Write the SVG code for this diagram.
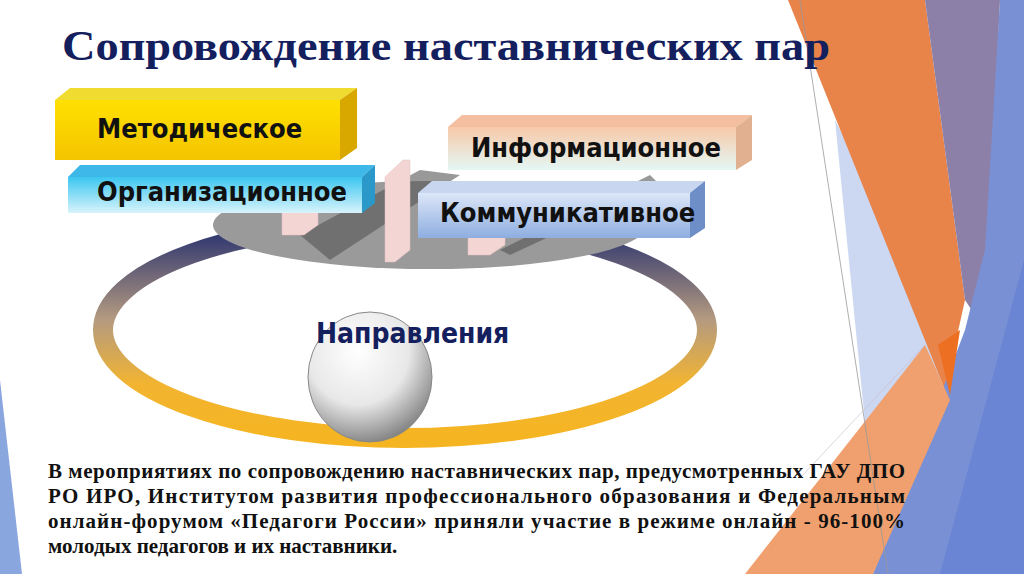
<svg xmlns="http://www.w3.org/2000/svg" width="1024" height="574" viewBox="0 0 1024 574">
<defs>
<linearGradient id="ring" x1="0" y1="0" x2="0" y2="1"><stop offset="0" stop-color="#1e2a6e"/><stop offset="0.45" stop-color="#b49a80"/><stop offset="0.75" stop-color="#f2b431"/><stop offset="1" stop-color="#f5b522"/></linearGradient>
<radialGradient id="sph" cx="0.4" cy="0.3" r="0.75"><stop offset="0" stop-color="#ffffff"/><stop offset="0.55" stop-color="#e8e8e8"/><stop offset="1" stop-color="#7a7a7a"/></radialGradient>
<linearGradient id="yel" x1="0" y1="0" x2="0" y2="1"><stop offset="0" stop-color="#ffe000"/><stop offset="1" stop-color="#f4c400"/></linearGradient>
<linearGradient id="cyan" x1="0" y1="0" x2="0" y2="1"><stop offset="0" stop-color="#3cc6f0"/><stop offset="1" stop-color="#d8f4fb"/></linearGradient>
<linearGradient id="peach" x1="0" y1="0" x2="0" y2="1"><stop offset="0" stop-color="#f7c9a8"/><stop offset="1" stop-color="#e4f7f5"/></linearGradient>
<linearGradient id="blu" x1="0" y1="0" x2="0" y2="1"><stop offset="0" stop-color="#dce6f8"/><stop offset="1" stop-color="#8eaee0"/></linearGradient>
<style>
.lbl{font-family:"DejaVu Sans Condensed","DejaVu Sans",sans-serif;font-weight:bold;font-size:27px;fill:#111}
.body{font-family:"Liberation Serif",serif;font-weight:bold;font-size:21px;fill:#111}
</style>
</defs>
<rect width="1024" height="574" fill="#fff"/>
<g id="decor">
<polygon points="0,380 22,574 0,574" fill="#8aa6de"/>
<polygon points="835,120 945,330 925,574 880,574" fill="#c6d4ef" opacity="0.9"/>
<polygon points="788,0 925,0 965,300 945,390" fill="#e8834a"/>
<polygon points="925,0 1000,0 985,330 965,300" fill="#8c80a8"/>
<polygon points="1000,0 1024,0 1024,574 873,574 965,330 985,250" fill="#7a90d4"/>
<polygon points="1024,260 1024,574 940,574" fill="#6a85d4"/>
<polygon points="745,574 925,345 950,400 873,574" fill="#f0a06e"/>
<polygon points="938,345 960,330 950,395" fill="#ec6f22"/>
<line x1="800" y1="0" x2="888" y2="574" stroke="#999" stroke-width="0.8"/>
<line x1="800" y1="478" x2="925" y2="345" stroke="#c9b7c8" stroke-width="0.6"/>
</g>
<text x="62" y="60" font-family="Liberation Serif,serif" font-weight="bold" font-size="42" fill="#14205e" textLength="768" lengthAdjust="spacingAndGlyphs">Сопровождение наставнических пар</text>
<g id="ring-g"><ellipse cx="405" cy="330" rx="302" ry="108" fill="none" stroke="url(#ring)" stroke-width="20"/></g>
<g id="disc"><ellipse cx="430" cy="225" rx="217" ry="44" fill="#9a9a9a"/>
<polygon points="300,235 420,170 460,175 330,260" fill="#555" opacity="0.6"/>
<polygon points="500,250 650,175 660,185 510,255" fill="#555" opacity="0.6"/></g>
<g id="bars" fill="#f3d6d4" stroke="#e0bcbc" stroke-width="0.5">
<polygon points="282,208 296,198 318,198 318,225 304,235 282,235"/>
<polygon points="385,177 403,160 410,160 410,250 395,262 385,262"/>
<polygon points="468,218 482,208 505,208 505,245 490,255 468,255"/>
</g>
<g id="metod"><polygon points="55,100 70,88 357,88 340,100" fill="#f0dc30"/><polygon points="340,100 357,88 357,148 340,160" fill="#d8a800"/><rect x="55" y="100" width="285" height="60" fill="url(#yel)"/><text class="lbl" x="97" y="138">Методическое</text></g>
<g id="org"><polygon points="68,177 80,165 375,165 362,177" fill="#3db8e8"/><polygon points="362,177 375,165 375,203 362,213" fill="#2a98c8"/><rect x="68" y="177" width="294" height="36" fill="url(#cyan)"/><text class="lbl" x="97" y="201">Организационное</text></g>
<g id="inform"><polygon points="448,127 462,115 752,115 736,127" fill="#f4bfa0"/><polygon points="736,127 752,115 752,160 736,170" fill="#e0b090"/><rect x="448" y="127" width="288" height="43" fill="url(#peach)"/><text class="lbl" x="471" y="157">Информационное</text></g>
<g id="komm"><polygon points="418,193 432,181 705,181 690,193" fill="#c8d6f0"/><polygon points="690,193 705,181 705,228 690,238" fill="#6e8ec8"/><rect x="418" y="193" width="272" height="45" fill="url(#blu)"/><text class="lbl" x="440" y="222">Коммуникативное</text></g>
<g id="sphere"><ellipse cx="370" cy="377" rx="62" ry="65" fill="url(#sph)" stroke="#888" stroke-width="1"/><text x="316" y="343" font-family="DejaVu Sans Condensed,DejaVu Sans,sans-serif" font-weight="bold" font-size="28" fill="#14205e">Направления</text></g>
<g id="para">
<text class="body" x="48" y="478" textLength="857" lengthAdjust="spacing">В мероприятиях по сопровождению наставнических пар, предусмотренных ГАУ ДПО</text>
<text class="body" x="48" y="503" textLength="857" lengthAdjust="spacing">РО ИРО, Институтом развития профессионального образования и Федеральным</text>
<text class="body" x="48" y="528" textLength="857" lengthAdjust="spacing">онлайн-форумом «Педагоги России»  приняли участие в режиме онлайн - 96-100%</text>
<text class="body" x="48" y="553">молодых педагогов и их наставники.</text>
</g>
</svg>
